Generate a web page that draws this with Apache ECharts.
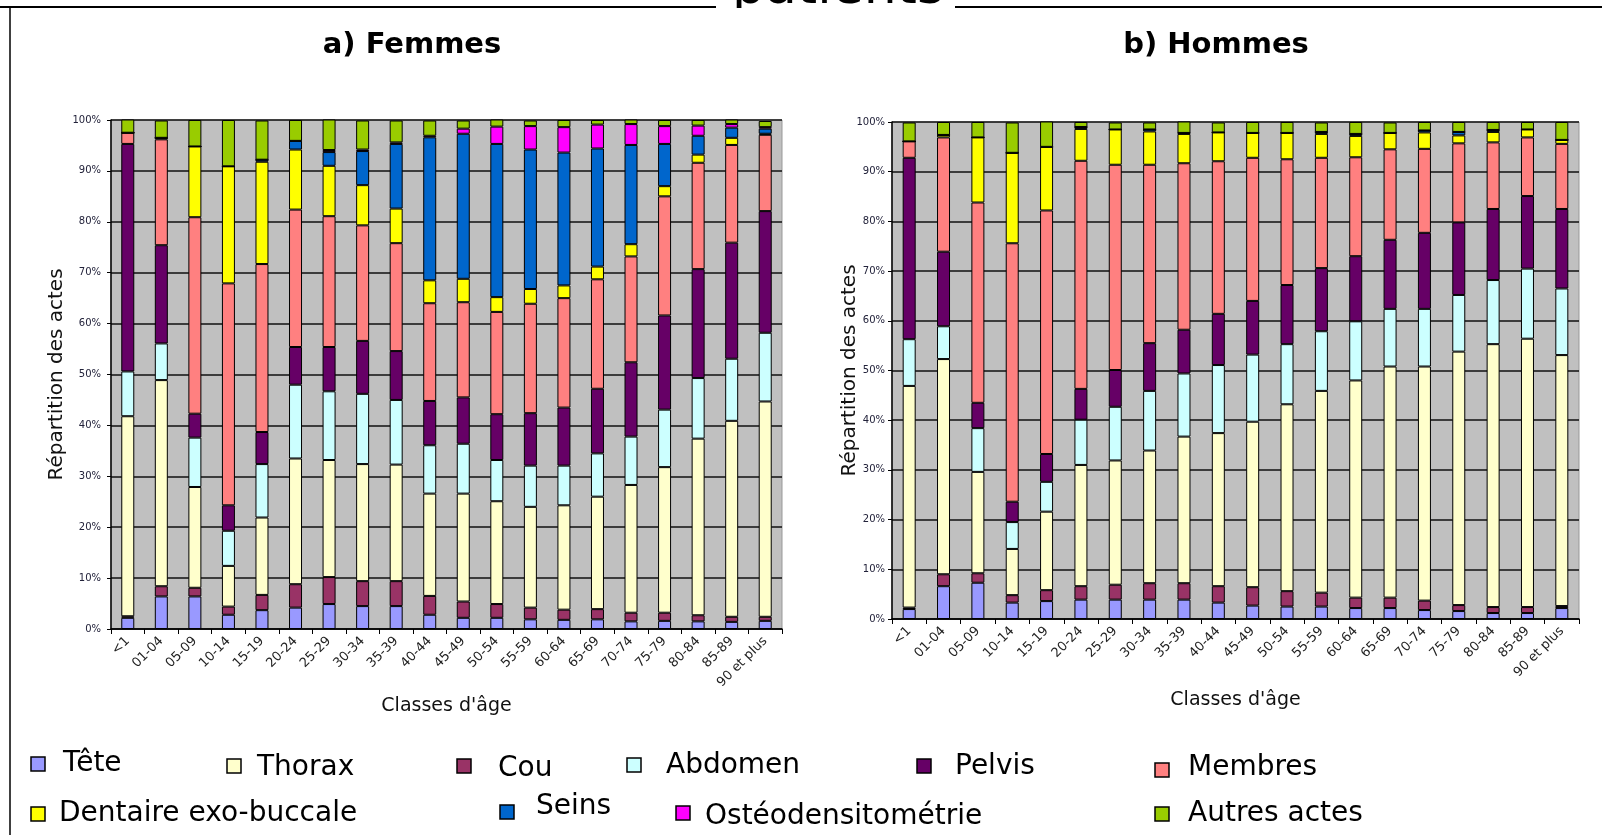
<!DOCTYPE html>
<html>
<head>
<meta charset="utf-8">
<script src="https://cdn.jsdelivr.net/npm/echarts@6/dist/echarts.min.js"></script>
<style>
  html, body { margin: 0; padding: 0; background: #fff; }
  #main { width: 1602px; height: 835px; }
</style>
</head>
<body>
<div id="main"></div>
<script>
const categories = ['<1', '01-04', '05-09', '10-14', '15-19', '20-24', '25-29', '30-34', '35-39', '40-44',
  '45-49', '50-54', '55-59', '60-64', '65-69', '70-74', '75-79', '80-84', '85-89', '90 et plus'];

// stacking order, bottom to top
const seriesNames = ['Tête', 'Cou', 'Thorax', 'Abdomen', 'Pelvis', 'Membres',
  'Dentaire exo-buccale', 'Seins', 'Ostéodensitométrie', 'Autres actes'];
const seriesColors = ['#9999FF', '#993366', '#FFFFCC', '#CCFFFF', '#660066', '#FF8080',
  '#FFFF00', '#0066CC', '#FF00FF', '#99CC00'];

// a) Femmes (% des actes)
const femTete     = [2.2, 6.4, 6.4, 2.8, 3.7, 4.2, 4.9, 4.5, 4.5, 2.8, 2.2, 2.2, 1.9, 1.8, 1.9, 1.5, 1.6, 1.5, 1.4, 1.6];
const femCou      = [0.3, 2.0, 1.7, 1.6, 3.0, 4.6, 5.3, 4.9, 4.9, 3.7, 3.2, 2.7, 2.3, 2.0, 2.0, 1.7, 1.6, 1.2, 1.0, 0.8];
const femThorax   = [39.3, 40.5, 19.8, 8.0, 15.2, 24.7, 23.0, 23.0, 22.9, 20.1, 21.2, 20.2, 19.8, 20.5, 22.1, 25.1, 28.6, 34.7, 38.5, 42.3];
const femAbdomen  = [8.8, 7.2, 9.7, 6.9, 10.5, 14.5, 13.5, 13.8, 12.7, 9.5, 9.8, 8.1, 8.1, 7.8, 8.5, 9.5, 11.3, 11.9, 12.2, 13.5];
const femPelvis   = [44.7, 19.3, 4.7, 5.0, 6.3, 7.4, 8.7, 10.4, 9.6, 8.7, 9.1, 9.0, 10.3, 11.4, 12.7, 14.6, 18.5, 21.4, 22.8, 23.9];
const femMembres  = [2.2, 20.8, 38.6, 43.6, 33.0, 27.0, 25.7, 22.7, 21.2, 19.2, 18.7, 20.1, 21.5, 21.5, 21.5, 20.8, 23.4, 20.9, 19.2, 15.0];
const femDentaire = [0, 0.3, 13.9, 23.0, 20.1, 11.8, 9.9, 7.9, 6.8, 4.5, 4.6, 2.9, 2.9, 2.5, 2.5, 2.4, 2.0, 1.6, 1.4, 0.2];
const femSeins    = [0, 0, 0, 0, 0.4, 1.7, 2.7, 6.7, 12.7, 28.1, 28.5, 30.1, 27.4, 26.1, 23.2, 19.5, 8.3, 3.7, 2.0, 1.0];
const femOsteo    = [0, 0, 0, 0, 0, 0, 0.4, 0.3, 0.3, 0.3, 1.0, 3.4, 4.6, 5.0, 4.7, 4.1, 3.5, 2.0, 0.7, 0.3];
const femAutres   = [2.6, 3.4, 5.2, 9.1, 7.7, 4.1, 6.0, 5.7, 4.3, 3.0, 1.6, 1.4, 1.1, 1.4, 0.9, 0.9, 1.2, 1.1, 0.9, 1.2];

// b) Hommes (% des actes)
const homTete     = [2.0, 6.6, 7.3, 3.3, 3.6, 3.9, 3.9, 3.9, 3.9, 3.3, 2.7, 2.5, 2.5, 2.2, 2.2, 1.8, 1.6, 1.2, 1.2, 2.2];
const homCou      = [0.3, 2.4, 1.9, 1.5, 2.2, 2.7, 3.0, 3.3, 3.3, 3.3, 3.7, 3.1, 2.8, 2.1, 2.1, 1.9, 1.2, 1.2, 1.2, 0.4];
const homThorax   = [44.6, 43.3, 20.4, 9.3, 15.8, 24.4, 25.0, 26.7, 29.5, 30.8, 33.3, 37.6, 40.6, 43.7, 46.5, 47.1, 51.0, 52.9, 54.0, 50.5];
const homAbdomen  = [9.4, 6.6, 8.8, 5.4, 6.0, 9.1, 10.8, 12.0, 12.7, 13.7, 13.5, 12.1, 12.0, 11.9, 11.6, 11.6, 11.4, 12.9, 14.1, 13.4];
const homPelvis   = [36.5, 15.0, 5.1, 4.1, 5.6, 6.2, 7.4, 9.6, 8.8, 10.3, 10.8, 11.9, 12.7, 13.1, 13.9, 15.3, 14.6, 14.3, 14.6, 16.0];
const homMembres  = [3.3, 23.0, 40.3, 52.0, 49.0, 45.9, 41.3, 35.9, 33.5, 30.7, 28.8, 25.3, 22.2, 19.9, 18.2, 16.9, 15.9, 13.4, 11.8, 13.1];
const homDentaire = [0, 0.5, 13.1, 18.2, 12.8, 6.4, 7.1, 6.7, 5.9, 5.8, 5.0, 5.3, 4.8, 4.3, 3.3, 3.3, 1.6, 2.1, 1.6, 0.8];
const homSeins    = [0, 0, 0, 0, 0, 0.4, 0, 0.4, 0.2, 0, 0, 0, 0.4, 0.4, 0, 0.4, 0.7, 0.4, 0, 0];
const homOsteo    = [0, 0, 0, 0, 0, 0, 0, 0, 0, 0, 0, 0, 0, 0, 0, 0, 0, 0, 0, 0];
const homAutres   = [3.8, 2.6, 3.1, 6.1, 5.1, 1.0, 1.4, 1.4, 2.4, 2.0, 2.2, 2.2, 1.9, 2.4, 2.1, 1.7, 2.0, 1.6, 1.5, 3.6];

const yTicks = [0, 10, 20, 30, 40, 50, 60, 70, 80, 90, 100];

const femData = [femTete, femCou, femThorax, femAbdomen, femPelvis, femMembres, femDentaire, femSeins, femOsteo, femAutres];
const homData = [homTete, homCou, homThorax, homAbdomen, homPelvis, homMembres, homDentaire, homSeins, homOsteo, homAutres];

const FONT = 'DejaVu Sans';

const makeX = (gridIndex, nameGap) => ({
  type: 'category',
  gridIndex: gridIndex,
  data: categories,
  name: "Classes d'âge",
  nameLocation: 'middle',
  nameGap: nameGap,
  nameTextStyle: { fontFamily: FONT, fontSize: 19, color: '#111' },
  axisLine: { lineStyle: { color: '#000', width: 1.5 } },
  axisTick: { show: true, length: 5, lineStyle: { color: '#000' } },
  axisLabel: { interval: 0, rotate: 45, margin: 10, fontFamily: FONT, fontSize: 13, color: '#222' },
  splitLine: { show: false }
});

const makeY = (gridIndex, nameGap, labelMargin) => ({
  type: 'value',
  gridIndex: gridIndex,
  min: yTicks[0],
  max: yTicks[yTicks.length - 1],
  interval: 10,
  name: 'Répartition des actes',
  nameLocation: 'middle',
  nameRotate: 90,
  nameGap: nameGap,
  nameMoveOverlap: false,
  nameTextStyle: { fontFamily: FONT, fontSize: 20, color: '#111' },
  axisLine: { show: true, lineStyle: { color: '#000', width: 1.5 } },
  axisTick: { show: true, length: 4, lineStyle: { color: '#000' } },
  axisLabel: { formatter: '{value}%', margin: labelMargin, fontFamily: FONT, fontSize: 10, color: '#22223a' },
  splitLine: { show: true, lineStyle: { color: '#111', width: 1.5 } }
});

const series = [];
[femData, homData].forEach((dataSet, k) => {
  dataSet.forEach((values, i) => {
    series.push({
      name: seriesNames[i],
      type: 'bar',
      stack: k === 0 ? 'femmes' : 'hommes',
      xAxisIndex: k,
      yAxisIndex: k,
      barWidth: 13,
      data: values,
      itemStyle: { color: seriesColors[i], borderColor: '#000', borderWidth: 1 },
      emphasis: { disabled: true }
    });
  });
});

// legend drawn as graphic items (order as in the figure)
const legendItems = [
  { idx: 0, bx: 31, by: 764, tx: 63, ty: 764 },
  { idx: 2, bx: 227, by: 766, tx: 257, ty: 768 },
  { idx: 1, bx: 457, by: 766, tx: 498, ty: 769 },
  { idx: 3, bx: 627, by: 765, tx: 666, ty: 766 },
  { idx: 4, bx: 917, by: 766, tx: 955, ty: 767 },
  { idx: 5, bx: 1155, by: 770, tx: 1188, ty: 768 },
  { idx: 6, bx: 31, by: 814, tx: 59, ty: 814 },
  { idx: 7, bx: 500, by: 812, tx: 536, ty: 807 },
  { idx: 8, bx: 676, by: 813, tx: 705, ty: 817 },
  { idx: 9, bx: 1155, by: 814, tx: 1188, ty: 814 }
];
const graphics = [];
legendItems.forEach((it) => {
  graphics.push({
    type: 'rect',
    shape: { x: it.bx, y: it.by - 7, width: 14, height: 14 },
    style: { fill: seriesColors[it.idx], stroke: '#000', lineWidth: 1.5 }
  });
  graphics.push({
    type: 'text',
    x: it.tx, y: it.ty,
    style: { text: seriesNames[it.idx], fontFamily: FONT, fontSize: 28, fill: '#000', verticalAlign: 'middle', align: 'left' }
  });
});
// cut-off heading at the top and frame
graphics.push({
  type: 'text', x: 838, y: -11, z: 1,
  style: { text: 'patients', fontFamily: FONT, fontSize: 52, fill: '#000', align: 'center', verticalAlign: 'middle' }
});
graphics.push({ type: 'rect', z: 2, shape: { x: 700, y: 8, width: 280, height: 30 }, style: { fill: '#fff' } });
graphics.push({ type: 'line', z: 3, shape: { x1: 0, y1: 7, x2: 716, y2: 7 }, style: { stroke: '#000', lineWidth: 2 } });
graphics.push({ type: 'line', z: 3, shape: { x1: 955, y1: 7, x2: 1602, y2: 7 }, style: { stroke: '#000', lineWidth: 2 } });
graphics.push({ type: 'line', z: 3, shape: { x1: 10, y1: 7, x2: 10, y2: 835 }, style: { stroke: '#000', lineWidth: 1.5 } });

const chart = echarts.init(document.getElementById('main'));
chart.setOption({
  animation: false,
  backgroundColor: '#fff',
  title: [
    { text: 'a) Femmes', left: 407, top: 26, textAlign: 'center',
      textStyle: { fontFamily: FONT, fontSize: 29, fontWeight: 'bold', color: '#000' } },
    { text: 'b) Hommes', left: 1211, top: 26, textAlign: 'center',
      textStyle: { fontFamily: FONT, fontSize: 29, fontWeight: 'bold', color: '#000' } }
  ],
  grid: [
    { left: 111, top: 120, width: 671, height: 509, show: true, backgroundColor: '#C0C0C0', borderColor: '#999', borderWidth: 1 },
    { left: 892, top: 122, width: 687, height: 497, show: true, backgroundColor: '#C0C0C0', borderColor: '#999', borderWidth: 1 }
  ],
  xAxis: [makeX(0, 67), makeX(1, 72)],
  yAxis: [makeY(0, 44, 10), makeY(1, 32, 7)],
  series: series,
  graphic: graphics
});
</script>
</body>
</html>
